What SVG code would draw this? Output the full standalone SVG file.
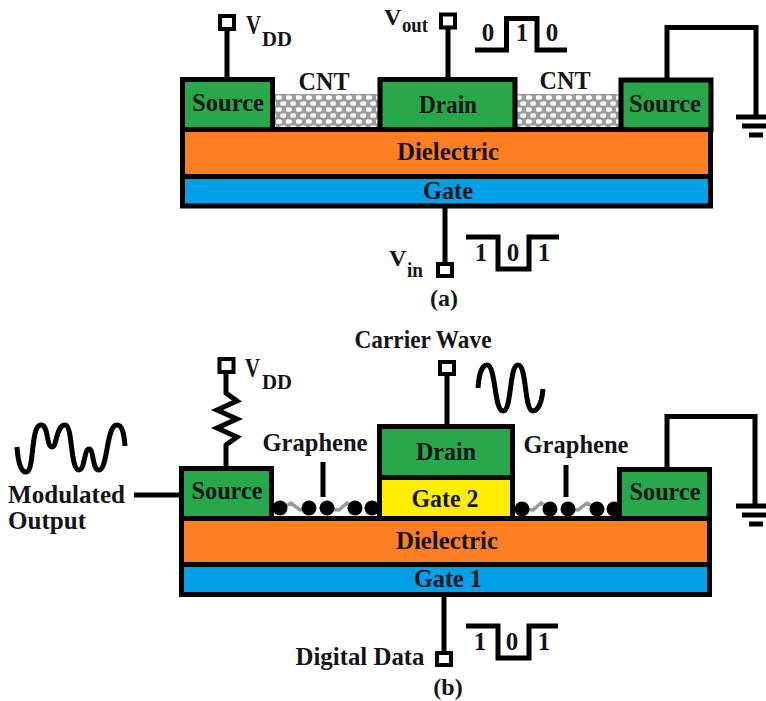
<svg xmlns="http://www.w3.org/2000/svg" width="766" height="701" viewBox="0 0 766 701">
<style>
text{font-family:"Liberation Serif","Times New Roman",serif;font-weight:700;font-size:25px;fill:#14141a;text-anchor:middle}
.l{text-anchor:start}
.v{font-size:27px;text-anchor:start}
.w{font-size:24px;text-anchor:start}
.sub{font-size:21px;text-anchor:start}
.o{fill:none;stroke:#000;stroke-width:5;stroke-linejoin:miter}
.t{fill:#fff;stroke:#000;stroke-width:4}
.g{fill:#27a84a;stroke:#000;stroke-width:5}
.n{fill:none;stroke:#9a9a9a;stroke-width:3.5}
.b{fill:#000}
</style>
<defs>
<pattern id="cnt" width="10" height="12" patternUnits="userSpaceOnUse" x="276" y="94">
<rect width="10" height="12" fill="#9c9c9c"/>
<ellipse cx="2.500" cy="3.500" rx="3.500" ry="2.300" fill="#fff"/>
<ellipse cx="7.500" cy="9.500" rx="3.500" ry="2.300" fill="#f4f4f4"/>
</pattern>
<g id="ground"><path class="o" d="M-19 0H11M-13 9H11M-6 18H8"/></g>
</defs>

<g id="connectors">
<path class="o" d="M227 30V78M448 28V78M445 206V263M667 78V27.500H756V117"/>
<path class="o" d="M226 372V393L237 401L217 410L237 419L217 428L237 437L226 445V467M447 375V425M444 595V652M134 495H181M323 462V497M566 465V497M667 468V416.500H755V506"/>
</g>

<g id="signals">
<path class="o" d="M475 50H506.500V18.500H537V50H567"/>
<path class="o" d="M466 237H498V269H529V237H559"/>
<path class="o" d="M466 626H498V658H529V626H558"/>
<path class="o" d="M478 388C479 372 483 365 487 365C496 365 494 411 503 411C512 411 509 365 518 365C527 365 524 411 533 411C538 411 542 402 543 389"/>
<path class="o" d="M17 447C18 462 21 472 26 472C35 472 30 425 41 425C49 425 46 447 52 447C57 447 56 425 65 425C73 425 70 470 79 470C85 470 84 449 89 449C94 449 92 470 99 470C108 470 106 425 117 425C122 425 124 433 125 446"/>
</g>

<g id="ground-a" transform="translate(755,117)"><use href="#ground"/></g>
<g id="ground-b" transform="translate(755,506)"><use href="#ground"/></g>

<g id="cnt-a"><rect x="273" y="94" width="108" height="33" fill="url(#cnt)"/><rect x="515" y="94" width="105" height="33" fill="url(#cnt)"/></g>
<g id="source-a1"><rect class="g" x="182.500" y="79.500" width="90" height="50"/><text x="228" y="111" textLength="72" lengthAdjust="spacingAndGlyphs">Source</text></g>
<g id="drain-a"><rect class="g" x="380" y="79.500" width="135" height="50"/><text x="448" y="113" textLength="58" lengthAdjust="spacingAndGlyphs">Drain</text></g>
<g id="source-a2"><rect class="g" x="621" y="80" width="90" height="50"/><text x="665" y="112" textLength="72" lengthAdjust="spacingAndGlyphs">Source</text></g>
<g id="dielectric-a"><rect x="182.500" y="129.500" width="528" height="47" fill="#fe7f23" stroke="#000" stroke-width="5"/><text x="448" y="160" textLength="102" lengthAdjust="spacingAndGlyphs">Dielectric</text></g>
<g id="gate-a"><rect x="182.500" y="176.500" width="528" height="29.500" fill="#00a0e6" stroke="#000" stroke-width="5"/><text x="448" y="199" textLength="50" lengthAdjust="spacingAndGlyphs">Gate</text></g>

<g id="term-vdd-a"><rect class="t" x="220" y="16" width="14" height="13"/><text class="v" x="246" y="34" textLength="15" lengthAdjust="spacingAndGlyphs">V</text><text class="sub" x="262" y="46" textLength="30" lengthAdjust="spacingAndGlyphs">DD</text></g>
<g id="term-vout"><rect class="t" x="441" y="14.500" width="14" height="13"/><text class="w" x="384" y="25">V</text><text class="sub" x="402" y="32" textLength="26" lengthAdjust="spacingAndGlyphs">out</text></g>
<g id="term-vin"><rect class="t" x="438" y="264" width="14" height="12"/><text class="w" x="389" y="266">V</text><text class="sub" x="407" y="277" textLength="16" lengthAdjust="spacingAndGlyphs">in</text></g>

<g id="labels-a">
<text x="324" y="90" textLength="51" lengthAdjust="spacingAndGlyphs">CNT</text>
<text x="565" y="89" textLength="51" lengthAdjust="spacingAndGlyphs">CNT</text>
<text x="488" y="41">0</text><text x="522" y="41">1</text><text x="552" y="41">0</text>
<text x="481" y="261">1</text><text x="513" y="261">0</text><text x="544" y="261">1</text>
<text x="444" y="306" style="font-size:24px">(a)</text>
</g>

<g id="graphene">
<path class="n" d="M280 509L291 503L300 510L309 509M327 509L339 510L347 503L355 509M522 509L533 510L541 503L550 509M568 509L578 510L587 503L597 509"/>
<circle class="b" cx="280" cy="508" r="7.500"/><circle class="b" cx="309" cy="508" r="7.500"/><circle class="b" cx="327" cy="508" r="7.500"/><circle class="b" cx="355" cy="508" r="7.500"/><circle class="b" cx="372" cy="508" r="7.500"/>
<circle class="b" cx="522" cy="509" r="7.500"/><circle class="b" cx="550" cy="509" r="7.500"/><circle class="b" cx="568" cy="509" r="7.500"/><circle class="b" cx="597" cy="509" r="7.500"/><circle class="b" cx="614" cy="509" r="7.500"/>
</g>
<g id="source-b1"><rect class="g" x="181.500" y="468.500" width="90" height="50"/><text x="227" y="499" textLength="71" lengthAdjust="spacingAndGlyphs">Source</text></g>
<g id="drain-b"><rect class="g" x="379.500" y="426.500" width="133" height="51"/><text x="446" y="460" textLength="60" lengthAdjust="spacingAndGlyphs">Drain</text></g>
<g id="gate2-b"><rect x="379.500" y="477.500" width="133" height="41" fill="#ffee00" stroke="#000" stroke-width="5"/><text x="445" y="507" textLength="67" lengthAdjust="spacingAndGlyphs">Gate 2</text></g>
<g id="source-b2"><rect class="g" x="619.500" y="469.500" width="90" height="50"/><text x="665" y="500" textLength="71" lengthAdjust="spacingAndGlyphs">Source</text></g>
<g id="dielectric-b"><rect x="181.500" y="518.500" width="528" height="46" fill="#fe7f23" stroke="#000" stroke-width="5"/><text x="447" y="549" textLength="102" lengthAdjust="spacingAndGlyphs">Dielectric</text></g>
<g id="gate1-b"><rect x="181.500" y="564.500" width="528" height="30" fill="#00a0e6" stroke="#000" stroke-width="5"/><text x="448" y="587" textLength="68" lengthAdjust="spacingAndGlyphs">Gate 1</text></g>

<g id="term-vdd-b"><rect class="t" x="219.500" y="359" width="14" height="13"/><text class="v" x="245" y="377" textLength="15" lengthAdjust="spacingAndGlyphs">V</text><text class="sub" x="262" y="389" textLength="30" lengthAdjust="spacingAndGlyphs">DD</text></g>
<g id="term-carrier"><rect class="t" x="440" y="362" width="14" height="12"/><text x="423" y="348" textLength="137" lengthAdjust="spacingAndGlyphs">Carrier Wave</text></g>
<g id="term-digital"><rect class="t" x="437" y="653" width="14" height="12"/><text x="360" y="665" textLength="129" lengthAdjust="spacingAndGlyphs">Digital Data</text></g>

<g id="labels-b">
<text class="l" x="8" y="503" textLength="117" lengthAdjust="spacingAndGlyphs">Modulated</text>
<text class="l" x="8" y="529" textLength="78" lengthAdjust="spacingAndGlyphs">Output</text>
<text x="315" y="451" textLength="105" lengthAdjust="spacingAndGlyphs">Graphene</text>
<text x="576" y="453" textLength="105" lengthAdjust="spacingAndGlyphs">Graphene</text>
<text x="480" y="650">1</text><text x="512" y="650">0</text><text x="544" y="650">1</text>
<text x="448" y="695" style="font-size:24px">(b)</text>
</g>
</svg>
